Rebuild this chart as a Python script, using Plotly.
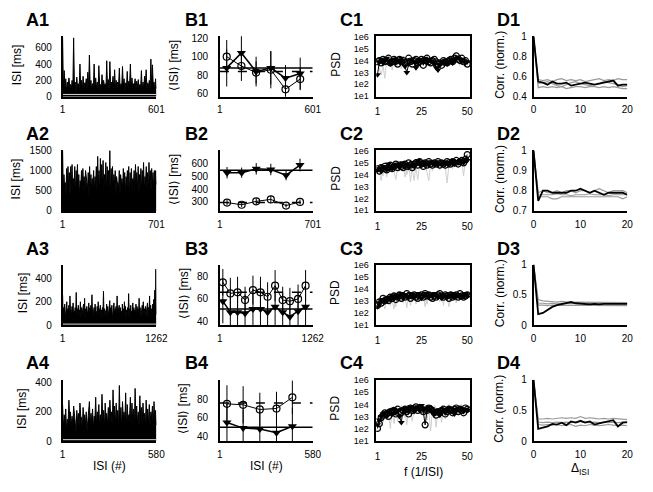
import numpy as np
import plotly.graph_objects as go

W, H = 653, 492

# ---------------- A: ISI sequences (spike peaks / dense-band level) ----------------
A_n = [601, 701, 1262, 580]
A1_peaks = [720, 320, 220, 180, 230, 150, 200, 720, 180, 240, 160, 400, 200, 250, 170, 220, 300, 510, 200, 160,
            400, 230, 180, 380, 150, 270, 200, 160, 440, 210, 430, 180, 250, 330, 200, 180, 350, 160, 370, 220,
            170, 310, 190, 400, 230, 160, 220, 190, 210, 150, 320, 180, 250, 330, 170, 200, 460, 390, 180, 220]
A1_band = [90, 120, 70, 110, 140, 80, 100, 130, 60, 110, 90, 120, 70, 100, 140, 80, 110, 130, 70, 90,
           120, 100, 80, 140, 60, 110, 130, 90, 100, 70, 120, 140, 80, 110, 90, 130, 70, 100, 120, 60,
           110, 90, 140, 80, 100, 130, 70, 120, 90, 110, 60, 100, 140, 80, 120, 90, 110, 130, 70, 100]
A2_peaks = [1500, 900, 700, 1050, 1100, 950, 1100, 1150, 800, 1100, 1000, 1150, 900, 750, 1000, 1050, 850, 1000, 700, 950,
            1100, 900, 800, 1000, 850, 1100, 1350, 1000, 1300, 1150, 1250, 900, 1200, 1100, 1000, 1500, 1050, 1100, 900, 1000,
            850, 700, 1000, 900, 800, 1050, 950, 850, 1000, 1100, 950, 1050, 800, 1000, 1150, 950, 1100, 900, 1050, 1000,
            1200, 850, 1100, 950, 1200, 1000, 1050, 950, 1000, 1000]
A2_band = [450, 600, 400, 700, 550, 350, 650, 500, 600, 400, 700, 550, 380, 600, 500, 650, 420, 700, 550, 360,
           600, 480, 700, 420, 650, 500, 600, 380, 720, 550, 420, 650, 500, 700, 550, 360, 600, 500, 650, 420,
           700, 550, 380, 600, 500, 650, 420, 700, 550, 360, 600, 500, 650, 420, 700, 480, 380, 600, 500, 650,
           420, 700, 550, 360, 600, 480, 650, 500, 700, 650]
A3_peaks = [260, 150, 180, 120, 200, 140, 170, 250, 130, 160, 190, 120, 150, 280, 140, 170, 130, 200, 150, 120,
            180, 230, 140, 160, 120, 190, 150, 170, 260, 130, 150, 180, 120, 160, 200, 140, 170, 130, 150, 290,
            140, 120, 180, 160, 130, 210, 150, 170, 120, 190, 140, 160, 250, 130, 170, 150, 120, 180, 140, 200,
            160, 130, 150, 270, 140, 170, 120, 190, 150, 130, 180, 160, 140, 230, 150, 120, 170, 200, 140, 160,
            130, 190, 150, 250, 170, 140, 180, 220, 300, 480]
A3_band = [70, 100, 55, 110, 80, 95, 60, 120, 75, 90, 55, 105, 85, 65, 115, 80, 100, 60, 90, 110,
           70, 55, 100, 80, 120, 65, 95, 75, 105, 55, 85, 115, 70, 95, 60, 110, 80, 55, 100, 85,
           120, 70, 95, 60, 105, 80, 90, 55, 110, 75, 100, 65, 85, 120, 70, 100, 55, 95, 80, 110,
           60, 95, 75, 115, 55, 85, 105, 70, 100, 80, 60, 110, 75, 90, 55, 105, 85, 65, 100, 80,
           120, 60, 95, 70, 100, 65, 85, 110, 75, 90]
A4_peaks = [250, 180, 220, 150, 280, 200, 170, 240, 130, 210, 190, 260, 160, 230, 180, 200, 150, 270, 190, 220,
            170, 300, 200, 250, 180, 320, 210, 260, 190, 230, 280, 200, 350, 240, 260, 210, 380, 230, 270, 200,
            330, 250, 180, 300, 260, 220, 360, 240, 200, 310, 230, 260, 190, 280, 220, 250, 200, 240, 270, 210]
A4_band = [90, 130, 70, 120, 160, 100, 110, 150, 60, 130, 100, 170, 80, 140, 110, 70, 160, 100, 130, 80,
           150, 110, 170, 90, 130, 140, 80, 160, 110, 120, 170, 90, 140, 110, 150, 100, 130, 80, 160, 120,
           90, 140, 170, 100, 130, 80, 150, 120, 100, 160, 110, 140, 80, 150, 120, 100, 160, 90, 130, 110]
A_floor = [28, None, 8, 10]
A_ymax = [740, 1500, 520, 420]
A_yticks = [[0, 200, 400, 600], [0, 500, 1000, 1500], [0, 200, 400], [0, 200, 400]]

# ---------------- B: binned mean ISI (triangles / circles) ----------------
B1_x = [45, 140, 235, 330, 425, 520]
B1_tri = [88, 104, 84, 88, 77, 82]
B1_tri_err = [20, 20, 16, 18, 14, 17]
B1_circ = [100, 90, 83, 86, 65, 76]
B1_circ_err = [18, 16, 12, 20, 10, 12]
B2_x = [55, 165, 275, 385, 500, 605]
B2_tri = [530, 530, 560, 555, 510, 590]
B2_tri_err = [45, 40, 45, 45, 40, 50]
B2_circ = [295, 278, 305, 320, 272, 300]
B2_circ_err = [20, 18, 25, 28, 15, 18]
B3_x = [41, 143, 241, 343, 450, 552, 649, 751, 854, 952, 1063, 1165]
B3_tri = [58, 48, 48, 47, 51, 51, 48, 53, 48, 44, 49, 53]
B3_tri_err = [20, 18, 18, 17, 18, 18, 17, 18, 18, 16, 17, 18]
B3_circ = [75, 65, 66, 59, 68, 66, 62, 72, 59, 58, 60, 72]
B3_circ_err = [12, 14, 14, 12, 13, 14, 13, 14, 12, 12, 13, 14]
B4_x = [45, 146, 250, 354, 453]
B4_tri = [55, 49, 48, 44, 51]
B4_tri_err = [20, 20, 20, 20, 20]
B4_circ = [75, 74, 69, 70, 82]
B4_circ_err = [20, 20, 18, 18, 18]
B_tri_mean = [88, 550, 51, 50]
B_circ_mean = [84, 295, 66, 76]
B_yrange = [[57, 122], [230, 705], [36.5, 91], [35, 101]]
B_yticks = [[60, 80, 100, 120], [300, 400, 500, 600], [40, 60, 80], [40, 60, 80]]

# ---------------- C: power spectra (log10 PSD) ----------------
C_f = list(range(1, 51))
C1_tri = [2.8, 3.9, 4.1, 3.8, 4.0, 4.2, 3.9, 3.7, 4.0, 4.1, 3.8, 4.0, 3.9, 4.2, 3.8, 3.5, 3.0, 3.7, 4.0, 4.1, 3.9, 3.4, 3.8, 4.1, 4.0,
          3.9, 4.2, 3.8, 4.0, 4.1, 3.9, 3.7, 3.4, 3.2, 3.6, 3.9, 3.8, 4.0, 3.7, 3.9, 4.1, 3.8, 4.0, 4.2, 4.3, 4.1, 3.9, 4.0, 3.8, 3.9]
C1_circ = [3.9, 4.0, 3.8, 4.1, 3.9, 4.0, 4.2, 3.8, 3.9, 4.1, 4.0, 3.7, 4.1, 3.9, 4.0, 3.8, 3.9, 4.2, 3.9, 3.7, 4.0, 4.1, 3.8, 3.9, 4.1,
           3.6, 4.0, 4.2, 3.9, 3.8, 4.0, 4.1, 3.9, 3.7, 3.8, 3.6, 4.0, 3.9, 3.8, 4.0, 4.1, 3.9, 4.2, 4.4, 4.1, 4.0, 4.2, 3.9, 4.0, 3.7]
C1_gray1 = [3.8, 3.3, 2.8, 3.6, 2.5, 4.0, 3.7, 4.1, 3.2, 3.9, 4.2, 3.6, 4.0, 3.3, 4.1, 3.8, 3.5, 4.2, 3.9, 3.6, 4.3, 4.0, 3.4, 3.9, 4.1,
            3.7, 4.0, 3.8, 4.2, 3.5, 3.9, 4.1, 3.6, 3.3, 3.8, 4.0, 3.7, 4.1, 3.5, 3.9, 4.2, 3.8, 4.4, 4.5, 4.2, 3.6, 4.3, 3.9, 3.5, 4.0]
C1_gray2 = [4.1, 3.9, 4.2, 4.0, 3.7, 4.3, 4.1, 3.9, 4.2, 3.8, 4.0, 4.3, 3.9, 4.1, 3.5, 4.0, 4.2, 3.8, 4.1, 4.3, 3.9, 4.0, 4.2, 3.7, 4.1,
            4.3, 3.9, 4.0, 3.8, 4.2, 4.0, 3.9, 4.1, 3.8, 4.0, 4.2, 3.9, 3.8, 4.1, 4.3, 3.9, 4.0, 4.5, 4.3, 4.4, 4.1, 4.0, 4.2, 3.8, 4.1]
C2_tri = [4.4, 4.5, 4.3, 4.7, 4.6, 4.4, 4.9, 4.6, 4.5, 4.8, 4.7, 4.9, 4.6, 4.8, 5.0, 4.7, 4.9, 4.6, 4.8, 5.0, 4.7, 4.9, 5.2, 5.0, 4.8,
          5.1, 4.9, 5.0, 4.8, 5.1, 5.0, 4.9, 5.1, 4.8, 5.0, 4.9, 5.1, 4.9, 5.0, 4.8, 5.0, 5.2, 4.9, 5.1, 5.0, 5.2, 5.1, 5.0, 5.3, 5.2]
C2_circ = [4.5, 4.3, 4.6, 4.5, 4.7, 4.4, 4.6, 4.8, 4.5, 4.7, 4.9, 4.6, 4.8, 4.7, 4.6, 4.9, 4.7, 5.0, 4.8, 4.6, 4.9, 5.0, 4.8, 5.1, 4.9,
           4.7, 5.0, 4.8, 5.1, 4.9, 4.8, 5.0, 4.9, 5.1, 4.8, 5.0, 4.9, 4.8, 5.1, 5.0, 4.9, 5.1, 5.0, 5.2, 4.9, 5.1, 5.2, 5.0, 5.3, 5.7]
C2_gray1 = [4.6, 4.2, 3.5, 4.5, 4.8, 3.8, 4.6, 4.3, 4.9, 4.2, 3.6, 4.7, 4.9, 4.4, 5.0, 3.8, 4.6, 4.9, 3.4, 4.8, 5.0, 4.5, 3.6, 4.9, 5.3,
            4.8, 5.0, 4.2, 3.5, 4.9, 5.1, 4.7, 5.2, 4.9, 4.4, 5.0, 5.1, 4.6, 3.3, 4.9, 5.2, 4.8, 5.0, 5.1, 4.7, 5.2, 5.0, 3.9, 5.3, 5.4]
C2_gray2 = [4.3, 4.7, 4.5, 3.9, 4.7, 4.6, 4.2, 4.9, 4.7, 4.5, 4.8, 4.3, 4.7, 4.9, 4.5, 4.8, 4.0, 4.7, 4.9, 4.5, 3.5, 4.8, 5.0, 5.4, 4.9,
            4.7, 5.1, 4.9, 4.6, 5.0, 4.3, 5.1, 4.9, 5.0, 4.8, 5.2, 4.7, 5.0, 5.1, 4.8, 4.9, 4.5, 5.1, 4.9, 5.2, 4.8, 5.0, 5.2, 5.1, 5.5]
C3_tri = [2.5, 2.8, 3.0, 3.1, 2.9, 3.2, 3.3, 3.1, 3.4, 3.2, 3.5, 3.3, 3.4, 3.6, 3.2, 3.5, 3.4, 3.3, 3.6, 3.5, 3.3, 3.4, 3.6, 3.5, 3.2,
          3.4, 3.5, 3.6, 3.3, 3.5, 3.4, 3.6, 3.5, 3.3, 3.4, 3.2, 3.5, 3.4, 3.3, 3.5, 3.4, 3.6, 3.3, 3.5, 3.4, 3.3, 3.5, 3.4, 3.6, 3.5]
C3_circ = [2.6, 2.9, 2.8, 3.2, 3.0, 3.1, 3.0, 3.3, 3.2, 3.4, 3.1, 3.3, 3.5, 3.2, 3.4, 3.3, 3.6, 3.4, 3.2, 3.4, 3.5, 3.3, 3.2, 3.4, 3.5,
           3.3, 3.6, 3.4, 3.5, 3.3, 3.2, 3.4, 3.3, 3.5, 3.6, 3.4, 3.3, 3.5, 3.4, 3.2, 3.5, 3.3, 3.4, 3.5, 3.3, 3.6, 3.4, 3.3, 3.4, 3.5]
C3_gray1 = [2.7, 2.4, 3.0, 2.9, 2.3, 3.2, 3.3, 2.6, 3.4, 3.2, 2.5, 3.5, 3.3, 2.9, 3.6, 3.4, 2.4, 3.5, 3.6, 3.1, 3.4, 2.7, 3.5, 3.6, 3.3,
            3.5, 2.5, 3.4, 3.7, 3.4, 3.5, 2.9, 3.6, 3.4, 3.3, 3.6, 2.6, 3.5, 3.4, 3.6, 3.2, 3.5, 3.4, 2.8, 3.6, 3.5, 3.4, 3.2, 3.6, 3.5]
C3_gray2 = [2.9, 3.1, 2.6, 3.3, 3.2, 2.8, 3.4, 3.5, 3.1, 2.3, 3.5, 3.3, 3.4, 3.2, 2.8, 3.6, 3.5, 3.3, 2.6, 3.4, 3.7, 3.5, 3.3, 3.0, 3.6,
            3.4, 3.5, 2.7, 3.4, 3.6, 3.3, 3.5, 3.4, 3.2, 2.9, 3.5, 3.6, 3.4, 3.3, 2.5, 3.6, 3.4, 3.5, 3.3, 3.6, 3.1, 3.5, 3.4, 3.3, 3.6]
C4_tri = [2.3, 2.7, 3.0, 3.2, 3.3, 3.0, 3.4, 3.5, 3.2, 3.6, 3.3, 3.5, 3.0, 2.5, 3.6, 3.4, 3.7, 3.5, 3.8, 3.6, 3.4, 3.7, 3.8, 3.5, 3.9,
          3.6, 3.7, 3.5, 3.8, 3.6, 3.4, 3.2, 3.5, 3.3, 3.1, 3.4, 3.6, 3.3, 3.5, 3.7, 3.4, 3.6, 3.2, 3.5, 3.7, 3.5, 3.6, 3.4, 3.6, 3.5]
C4_circ = [2.0, 2.4, 2.9, 3.1, 3.3, 3.2, 3.0, 3.4, 3.3, 3.5, 3.2, 3.6, 3.4, 3.3, 3.5, 3.6, 3.4, 3.2, 3.7, 3.5, 3.6, 3.8, 3.5, 3.7, 3.6,
           3.4, 2.3, 3.5, 3.7, 3.6, 3.5, 3.3, 3.1, 3.4, 3.3, 3.5, 3.6, 3.2, 3.4, 3.6, 3.5, 3.3, 3.6, 3.7, 3.4, 3.6, 3.5, 3.3, 3.7, 3.6]
C4_gray1 = [2.4, 3.0, 2.2, 3.4, 2.8, 3.6, 3.2, 2.0, 3.7, 3.4, 3.8, 2.6, 3.6, 3.9, 3.3, 3.7, 2.3, 3.8, 4.0, 3.5, 3.9, 3.2, 3.6, 4.1, 3.8,
            3.5, 3.9, 2.7, 3.7, 3.9, 3.4, 3.8, 2.1, 3.6, 3.3, 3.9, 3.5, 2.8, 3.7, 4.0, 3.6, 3.8, 3.4, 3.9, 3.1, 3.7, 4.0, 3.5, 3.8, 3.6]
C4_gray2 = [2.6, 2.8, 3.2, 2.5, 3.4, 3.3, 2.9, 3.5, 3.3, 2.4, 3.6, 3.5, 3.2, 3.7, 3.6, 2.9, 3.5, 3.8, 3.4, 2.6, 3.7, 3.9, 3.6, 3.4, 4.0,
            3.7, 3.3, 3.8, 3.6, 1.8, 3.5, 3.9, 3.7, 3.4, 3.6, 2.5, 3.8, 3.6, 3.3, 3.9, 3.7, 3.5, 3.8, 3.2, 3.6, 3.9, 3.4, 3.7, 3.5, 3.8]
C_ytickvals = [1e1, 1e2, 1e3, 1e4, 1e5, 1e6]
C_yticktext = ["1e1", "1e2", "1e3", "1e4", "1e5", "1e6"]

# ---------------- D: serial correlation ----------------
D_lag = [0, 1, 2, 3, 4, 5, 6, 7, 8, 9, 10, 11, 12, 13, 14, 15, 16, 17, 18, 19, 20]
D1_black = [1, 0.55, 0.54, 0.52, 0.55, 0.53, 0.53, 0.54, 0.51, 0.52, 0.53, 0.54, 0.53, 0.52, 0.53, 0.54, 0.55, 0.56, 0.51, 0.52, 0.52]
D1_gray = [[1, 0.57, 0.56, 0.57, 0.55, 0.57, 0.58, 0.56, 0.57, 0.56, 0.57, 0.55, 0.56, 0.57, 0.58, 0.56, 0.57, 0.56, 0.58, 0.57, 0.57],
           [1, 0.53, 0.54, 0.55, 0.53, 0.51, 0.50, 0.52, 0.54, 0.55, 0.53, 0.52, 0.51, 0.52, 0.53, 0.55, 0.54, 0.53, 0.52, 0.50, 0.51],
           [1, 0.49, 0.50, 0.49, 0.50, 0.49, 0.50, 0.48, 0.49, 0.50, 0.50, 0.49, 0.50, 0.50, 0.49, 0.50, 0.49, 0.50, 0.49, 0.48, 0.48]]
D2_black = [1, 0.75, 0.80, 0.80, 0.79, 0.79, 0.79, 0.79, 0.80, 0.80, 0.81, 0.80, 0.79, 0.80, 0.79, 0.78, 0.79, 0.79, 0.79, 0.79, 0.78]
D2_gray = [[1, 0.79, 0.80, 0.79, 0.79, 0.80, 0.79, 0.80, 0.80, 0.79, 0.80, 0.80, 0.79, 0.80, 0.81, 0.80, 0.79, 0.80, 0.80, 0.80, 0.79],
           [1, 0.78, 0.78, 0.78, 0.78, 0.785, 0.78, 0.78, 0.775, 0.78, 0.78, 0.78, 0.785, 0.78, 0.78, 0.78, 0.775, 0.78, 0.78, 0.78, 0.78],
           [1, 0.77, 0.77, 0.77, 0.76, 0.76, 0.77, 0.77, 0.77, 0.77, 0.77, 0.77, 0.77, 0.77, 0.77, 0.77, 0.77, 0.77, 0.77, 0.76, 0.77]]
D3_black = [1, 0.18, 0.2, 0.25, 0.3, 0.33, 0.35, 0.37, 0.38, 0.36, 0.35, 0.35, 0.34, 0.35, 0.34, 0.35, 0.35, 0.34, 0.35, 0.34, 0.35]
D3_gray = [[1, 0.42, 0.4, 0.39, 0.38, 0.38, 0.39, 0.38, 0.37, 0.38, 0.38, 0.37, 0.38, 0.38, 0.37, 0.38, 0.38, 0.38, 0.37, 0.38, 0.37],
           [1, 0.36, 0.36, 0.35, 0.36, 0.35, 0.36, 0.36, 0.35, 0.36, 0.35, 0.36, 0.36, 0.35, 0.36, 0.35, 0.36, 0.35, 0.36, 0.36, 0.35],
           [1, 0.33, 0.33, 0.32, 0.33, 0.33, 0.32, 0.33, 0.33, 0.32, 0.33, 0.33, 0.32, 0.33, 0.33, 0.32, 0.33, 0.33, 0.32, 0.33, 0.32]]
D4_black = [1, 0.2, 0.22, 0.24, 0.28, 0.27, 0.3, 0.26, 0.32, 0.3, 0.33, 0.3, 0.32, 0.27, 0.29, 0.31, 0.33, 0.34, 0.24, 0.3, 0.31]
D4_gray = [[1, 0.36, 0.36, 0.37, 0.36, 0.37, 0.38, 0.37, 0.38, 0.37, 0.40, 0.37, 0.38, 0.37, 0.36, 0.37, 0.36, 0.37, 0.36, 0.35, 0.35],
           [1, 0.31, 0.30, 0.31, 0.30, 0.31, 0.30, 0.31, 0.30, 0.31, 0.32, 0.31, 0.30, 0.31, 0.30, 0.31, 0.30, 0.31, 0.30, 0.31, 0.30],
           [1, 0.27, 0.26, 0.27, 0.26, 0.27, 0.25, 0.26, 0.27, 0.24, 0.26, 0.25, 0.27, 0.26, 0.25, 0.26, 0.27, 0.26, 0.25, 0.26, 0.25]]
D_yrange = [[0.4, 1.0], [0.7, 1.0], [0.0, 1.0], [0.0, 1.0]]
D_yticks = [[0.4, 0.6, 0.8, 1], [0.7, 0.8, 0.9, 1], [0, 0.5, 1], [0, 0.5, 1]]

# ---------------- layout geometry (pixels) ----------------
COLS = [(61, 157), (222, 317), (382, 478), (543, 639)]
ROWS = [(31, 93), (148, 210), (265, 327), (383, 446)]
Y_STANDOFF = [7, 8, 4, 3]
X_STANDOFF = [3, 3, 5, 3]
FONT = "Liberation Sans, Arial, sans-serif"

fig = go.Figure()


def axname(k):
    return "" if k == 1 else str(k)


def base_axis(standoff, **kw):
    d = dict(showline=True, linecolor="black", linewidth=1.5, showgrid=False, zeroline=False,
             ticks="", tickfont=dict(size=10, color="black", family=FONT), ticklabelstandoff=standoff)
    d.update(kw)
    return d


def interleave(p, t):
    out = []
    for a, b in zip(p, t):
        out += [a, b]
    return out


A_peaks = [A1_peaks, A2_peaks, A3_peaks, A4_peaks]
A_band = [A1_band, A2_band, A3_band, A4_band]
B_x = [B1_x, B2_x, B3_x, B4_x]
B_tri = [B1_tri, B2_tri, B3_tri, B4_tri]
B_tri_err = [B1_tri_err, B2_tri_err, B3_tri_err, B4_tri_err]
B_circ = [B1_circ, B2_circ, B3_circ, B4_circ]
B_circ_err = [B1_circ_err, B2_circ_err, B3_circ_err, B4_circ_err]
C_tri = [C1_tri, C2_tri, C3_tri, C4_tri]
C_circ = [C1_circ, C2_circ, C3_circ, C4_circ]
C_gray = [[C1_gray1, C1_gray2], [C2_gray1, C2_gray2], [C3_gray1, C3_gray2], [C4_gray1, C4_gray2]]
D_black = [D1_black, D2_black, D3_black, D4_black]
D_gray = [D1_gray, D2_gray, D3_gray, D4_gray]

layout_axes = {}
for r in range(4):
    top, bot = ROWS[r]
    ydom = [1 - bot / H, 1 - top / H]
    for c in range(4):
        k = r * 4 + c + 1
        xa, ya = "x" + axname(k), "y" + axname(k)
        xdom = [COLS[c][0] / W, COLS[c][1] / W]
        xs_off, ys_off = X_STANDOFF[c], Y_STANDOFF[c]
        if c == 0:
            N = A_n[r]
            vals = interleave(A_peaks[r], A_band[r])
            xs = np.linspace(1, N, len(vals))
            fig.add_trace(go.Scatter(x=xs, y=vals, mode="lines", line=dict(color="black", width=1),
                                     fill="tozeroy", fillcolor="black",
                                     xaxis=xa, yaxis=ya, showlegend=False))
            if A_floor[r] is not None:
                fig.add_trace(go.Scatter(x=[1, N], y=[A_floor[r], A_floor[r]], mode="lines",
                                         line=dict(color="#d8d8d8", width=1), xaxis=xa, yaxis=ya, showlegend=False))
            layout_axes["xaxis" + axname(k)] = base_axis(xs_off, domain=xdom, anchor=ya, range=[1, N],
                                                        tickvals=[1, N], ticktext=["1", str(N)])
            layout_axes["yaxis" + axname(k)] = base_axis(ys_off, domain=ydom, anchor=xa, range=[0, A_ymax[r]],
                                                        tickvals=A_yticks[r])
        elif c == 1:
            N = A_n[r]
            fig.add_trace(go.Scatter(x=[1, N], y=[B_tri_mean[r]] * 2, mode="lines",
                                     line=dict(color="black", width=1.5), xaxis=xa, yaxis=ya, showlegend=False))
            fig.add_trace(go.Scatter(x=[1, N], y=[B_circ_mean[r]] * 2, mode="lines",
                                     line=dict(color="black", width=1.5, dash="dash"), xaxis=xa, yaxis=ya,
                                     showlegend=False))
            fig.add_trace(go.Scatter(x=B_x[r], y=B_circ[r], mode="lines+markers",
                                     line=dict(color="black", width=1),
                                     marker=dict(symbol="circle-open", size=7, color="black", line=dict(width=1.2)),
                                     error_y=dict(type="data", array=B_circ_err[r], color="black", thickness=1, width=0),
                                     xaxis=xa, yaxis=ya, showlegend=False))
            fig.add_trace(go.Scatter(x=B_x[r], y=B_tri[r], mode="lines+markers",
                                     line=dict(color="black", width=1.5),
                                     marker=dict(symbol="triangle-down", size=8, color="black"),
                                     error_y=dict(type="data", array=B_tri_err[r], color="black", thickness=1, width=0),
                                     xaxis=xa, yaxis=ya, showlegend=False))
            layout_axes["xaxis" + axname(k)] = base_axis(xs_off, domain=xdom, anchor=ya, range=[1, N],
                                                        tickvals=[1, N], ticktext=["1", str(N)])
            layout_axes["yaxis" + axname(k)] = base_axis(ys_off, domain=ydom, anchor=xa, range=B_yrange[r],
                                                        tickvals=B_yticks[r])
        elif c == 2:
            for g in C_gray[r]:
                fig.add_trace(go.Scatter(x=C_f, y=[10 ** v for v in g], mode="lines",
                                         line=dict(color="#cfcfcf", width=1), xaxis=xa, yaxis=ya, showlegend=False))
            fig.add_trace(go.Scatter(x=C_f, y=[10 ** v for v in C_circ[r]], mode="lines+markers",
                                     line=dict(color="black", width=1),
                                     marker=dict(symbol="circle-open", size=6, color="black", line=dict(width=1.2)),
                                     xaxis=xa, yaxis=ya, showlegend=False))
            fig.add_trace(go.Scatter(x=C_f, y=[10 ** v for v in C_tri[r]], mode="lines+markers",
                                     line=dict(color="black", width=1),
                                     marker=dict(symbol="triangle-down", size=6, color="black"),
                                     xaxis=xa, yaxis=ya, showlegend=False))
            layout_axes["xaxis" + axname(k)] = base_axis(xs_off, domain=xdom, anchor=ya, range=[0.3, 51.5], mirror=True,
                                                        tickvals=[1, 25, 50])
            layout_axes["yaxis" + axname(k)] = base_axis(ys_off, domain=ydom, anchor=xa, type="log", range=[0.95, 6.05],
                                                        mirror=True, tickvals=C_ytickvals, ticktext=C_yticktext,
                                                        tickfont=dict(size=9, color="black", family=FONT))
        else:
            for g in D_gray[r]:
                fig.add_trace(go.Scatter(x=D_lag, y=g, mode="lines", line=dict(color="#9a9a9a", width=1.2),
                                         xaxis=xa, yaxis=ya, showlegend=False))
            fig.add_trace(go.Scatter(x=D_lag, y=D_black[r], mode="lines", line=dict(color="black", width=1.8),
                                     xaxis=xa, yaxis=ya, showlegend=False))
            layout_axes["xaxis" + axname(k)] = base_axis(xs_off, domain=xdom, anchor=ya, range=[0, 20],
                                                        tickvals=[0, 10, 20])
            layout_axes["yaxis" + axname(k)] = base_axis(ys_off, domain=ydom, anchor=xa, range=D_yrange[r],
                                                        tickvals=D_yticks[r])

# ---------------- text ----------------
ann = []


def txt(x, y, s, size=12, bold=False, angle=0, xanchor="center"):
    ann.append(dict(x=x / W, y=1 - y / H, xref="paper", yref="paper", text=("<b>%s</b>" % s) if bold else s,
                    showarrow=False, textangle=angle, xanchor=xanchor, yanchor="middle",
                    font=dict(size=size, color="black", family=FONT)))


label_x = [21, 184, 343, 504]
label_y = [14, 131, 249, 366]
for r in range(4):
    for c, L in enumerate("ABCD"):
        txt(label_x[c], label_y[r], "%s%d" % (L, r + 1), size=18, bold=True, xanchor="left")

A_title_x = [14, 13, 20, 20]
B_title_x = [175, 175, 185, 185]
for r in range(4):
    cy = (ROWS[r][0] + ROWS[r][1]) / 2 - 2
    txt(A_title_x[r], cy, "ISI [ms]", angle=-90)
    txt(B_title_x[r], cy, "⟨ISI⟩ [ms]", angle=-90)
    txt(340, cy, "PSD", angle=-90)
    txt(508, cy, "Corr. (norm.)", angle=-90)

txt(109, 471, "ISI (#)")
txt(270, 471, "ISI (#)")
txt(430, 478, "f (1/ISI)")
txt(591, 475, "Δ<sub>ISI</sub>")

fig.update_layout(width=W, height=H, margin=dict(l=0, r=0, t=0, b=0), paper_bgcolor="white",
                  plot_bgcolor="white", showlegend=False, annotations=ann, **layout_axes)

fig.write_html("out.html", config={"displayModeBar": False},
               post_script="document.body.style.margin='0px';")
